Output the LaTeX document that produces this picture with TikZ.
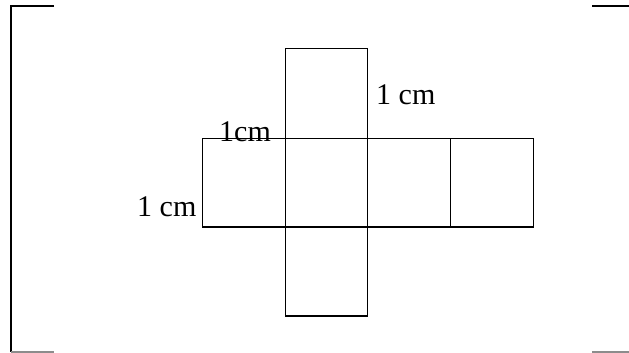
\documentclass[tikz,border=0pt]{standalone}
\usepackage{fontspec}
\setmainfont{Liberation Serif}
\begin{document}
\begin{tikzpicture}[x=1pt,y=-1pt,
  sq/.style={draw=black,line width=1.6pt},
  frame/.style={draw=black,line width=2.2pt},
  framelo/.style={draw=black!45,line width=1.6pt},
  lbl/.style={inner sep=0pt,anchor=base west,font=\fontsize{30}{30}\selectfont}]
\useasboundingbox (0,0) rectangle (629,353);
% frame
\coordinate (ftl) at (11,6);
\coordinate (ftle) at (54,6);
\coordinate (fbl) at (11,352);
\coordinate (fble) at (54,352);
\coordinate (ftr) at (592,6);
\coordinate (ftre) at (629,6);
\coordinate (fbr) at (592,352);
\coordinate (fbre) at (629,352);
\draw[frame] (ftle) -- (ftl) -- (fbl);
\draw[framelo] (fbl) -- (fble);
\draw[frame] (ftr) -- (ftre);
\draw[framelo] (fbr) -- (fbre);
% net of squares
\draw[sq] (202.5,138.5) rectangle (285.5,227);
\draw[sq] (285.5,138.5) rectangle (367.5,227);
\draw[sq] (367.5,138.5) rectangle (450.5,227);
\draw[sq] (450.5,138.5) rectangle (533.5,227);
\draw[sq] (285.5,48.5) rectangle (367.5,138.5);
\draw[sq] (285.5,227) rectangle (367.5,316);
% labels
\node[lbl] (l1) at (376,104) {1 cm};
\node[lbl] (l2) at (219,141) {1cm};
\node[lbl] (l3) at (137,216) {1 cm};
\end{tikzpicture}
\end{document}
